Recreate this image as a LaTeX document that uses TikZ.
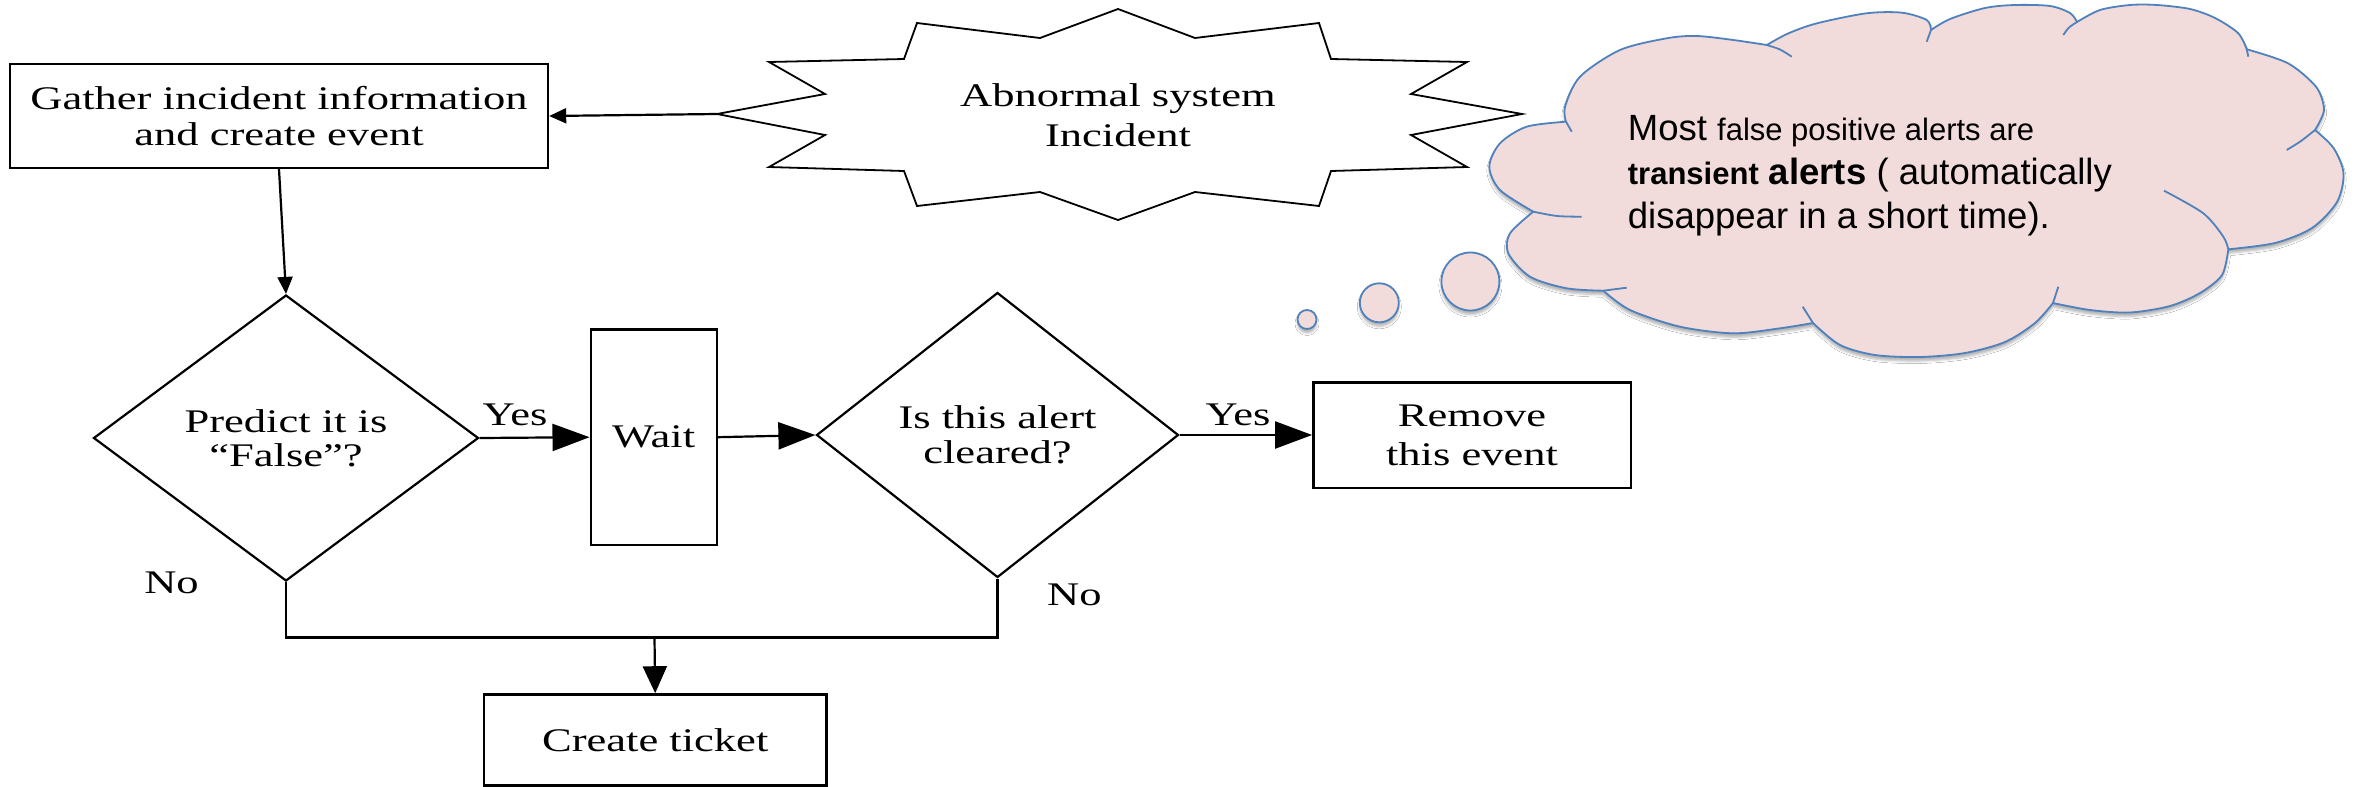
\documentclass[tikz,border=0pt]{standalone}
\usepackage{fontspec}
\usetikzlibrary{shapes.geometric,arrows.meta,shadows.blur}
\newfontfamily\flowfont[FakeStretch=1.35]{Liberation Serif}
\newfontfamily\notefont{Liberation Sans}
\newcommand\notebig{\fontsize{36.5}{44}\selectfont}
\newcommand\notesmall{\fontsize{31}{44}\selectfont}
\definecolor{cloudfill}{RGB}{242,220,219}
\definecolor{cloudline}{RGB}{79,129,189}

\begin{document}
\begin{tikzpicture}[x=1pt,y=-1pt,
  fs/.style={font=\flowfont\fontsize{33}{#1}\selectfont},
  flowtext/.style={fs=36, align=center, inner sep=0pt},
  procbox/.style={draw, line width=2.4pt, flowtext},
  decision/.style={diamond, draw, line width=2.2pt, flowtext},
  flowline/.style={line width=2.2pt},
  bigarrow/.style={flowline, -{Triangle[length=37pt,width=27pt]}},
  downarrow/.style={flowline, -{Triangle[length=27pt,width=24pt]}},
  smallarrow/.style={flowline, -{Triangle[length=17pt,width=15pt]}},
  burst/.style={draw, fill=white, line width=1.8pt, line join=miter},
  cloudshape/.style={fill=cloudfill, draw=cloudline, line width=1.8pt,
    blur shadow={shadow xshift=0pt, shadow yshift=-4pt, shadow blur radius=2.5pt, shadow opacity=30}},
  cloudtick/.style={draw=cloudline, line width=1.8pt},
  notetext/.style={font=\notefont\notebig, inner sep=0pt, anchor=base west},
]
\fill[white] (0,0) rectangle (2361,787);
\useasboundingbox (0,0) rectangle (2361,787);

% incident starburst
\draw[burst] (1118,9) -- (1195,38) -- (1319,23) -- (1331,59) -- (1467,62) -- (1411,94)
  -- (1522,114) -- (1411,135) -- (1467,167) -- (1331,171) -- (1319,206) -- (1195,192)
  -- (1118,220) -- (1040,192) -- (917,206) -- (904,171) -- (769,167) -- (825,135)
  -- (717,114) -- (825,94) -- (769,62) -- (904,59) -- (917,23) -- (1040,38) -- cycle;
\node[flowtext, fs=40] (incident) at (1118,115.5) {Abnormal system\\Incident};
\coordinate (burstL) at (717,114);

% flowchart boxes
\node[procbox, fs=36, minimum width=538pt, minimum height=104pt] (gather) at (279,116)
  {Gather incident information\\and create event};
\node[decision, fs=34, aspect=1.346, minimum width=385pt, minimum height=286pt] (predict) at (286,438)
  {Predict it is\\“False”?};
\node[procbox, minimum width=126pt, minimum height=215.7pt] (wait) at (653.7,437.2) {Wait};
\node[decision, fs=35, aspect=1.27, minimum width=362pt, minimum height=285pt] (cleared) at (997.5,435)
  {Is this alert\\cleared?};
\node[procbox, fs=39, minimum width=317.4pt, minimum height=105.4pt] (remove) at (1472,435)
  {Remove\\this event};
\node[procbox, minimum width=342.4pt, minimum height=91.2pt] (ticket) at (655.2,740) {Create ticket};

% branch labels
\node[flowtext, anchor=base] (yes1) at (515,425) {Yes};
\node[flowtext, anchor=base] (yes2) at (1238,425) {Yes};
\node[flowtext, anchor=base] (no1) at (171.5,593) {No};
\node[flowtext, anchor=base west] (no2) at (1047,605) {No};

% connectors
\draw[smallarrow] (burstL) -- (gather.east);
\draw[smallarrow] (gather.south) -- (predict.north);
\draw[bigarrow] (predict.east) -- (wait.west);
\draw[bigarrow] (wait.east) -- (cleared.west);
\draw[bigarrow] (cleared.east) -- (remove.west);
\coordinate (merge) at (654.5,637.5);
\draw[flowline] (predict.south) |- (merge) -| (cleared.south);
\draw[downarrow] (merge) -- (ticket.north);

% thought bubbles
\path[cloudshape] (1307,319.5) circle[radius=9.5pt];
\path[cloudshape] (1379.3,302.8) circle[radius=19.5pt];
\path[cloudshape] (1470.4,281.5) circle[radius=29pt];

% cloud outline, bump by bump
\path[cloudshape]
  plot[smooth] coordinates {(1566,121.7) (1565,106.7) (1580,76.7) (1620,50) (1666.7,38.3) (1696.7,36) (1733.3,40) (1766.7,45)}
  -- plot[smooth] coordinates {(1766.7,45) (1788.5,33.3) (1817,23.3) (1866.5,13.3) (1902,12.7) (1926.7,20) (1931,30)}
  -- plot[smooth] coordinates {(1931,30) (1950,19) (1985,8) (2015,5) (2050,6) (2070,13) (2077,22)}
  -- plot[smooth] coordinates {(2077,22) (2100,10) (2130,5) (2157,5) (2190,9) (2215,18) (2238,33) (2246.7,49.3)}
  -- plot[smooth] coordinates {(2246.7,49.3) (2288,63.3) (2316,86.7) (2324,108) (2320,121) (2315,130)}
  -- plot[smooth] coordinates {(2315,130) (2333.5,148) (2343.5,173.3) (2337,202) (2312,228) (2275,243) (2228.3,249.3)}
  -- plot[smooth] coordinates {(2228.3,249.3) (2222,275) (2200,293) (2170,306) (2130,312.5) (2090,310) (2053,303)}
  -- plot[smooth] coordinates {(2053,303) (2035,323) (2005,342) (1965,353) (1920,357) (1875,355) (1840,345) (1813,323)}
  -- plot[smooth] coordinates {(1813,323) (1780,328.3) (1733.3,333.3) (1680,326.7) (1630,310) (1603.3,290.7)}
  -- plot[smooth] coordinates {(1603.3,290.7) (1566.7,288.3) (1530,276.7) (1508.3,253.3) (1510,233.3) (1533.3,211.7)}
  -- plot[smooth] coordinates {(1533.3,211.7) (1500,190) (1489.3,166.7) (1500,143.3) (1526.7,126.7) (1566,121.7)}
  -- cycle;
% inner ends of the bumps
\draw[cloudtick] (1571.7,131.7) -- (1566,121.7);
\draw[cloudtick] plot[smooth] coordinates {(1766.7,45) (1780,49.5) (1791.7,56.7)};
\draw[cloudtick] (1926.7,41.7) -- (1931,30);
\draw[cloudtick] plot[smooth] coordinates {(2063.3,35) (2069,27.5) (2077,22)};
\draw[cloudtick] (2246.7,49.3) -- (2248.3,56.7);
\draw[cloudtick] plot[smooth] coordinates {(2315,130) (2301,141) (2286.7,150)};
\draw[cloudtick] plot[smooth] coordinates {(2164,190.7) (2203.3,213.3) (2223.3,236.7) (2228.3,249.3)};
\draw[cloudtick] (2058.3,286.7) -- (2053,303);
\draw[cloudtick] (1813,323) -- (1802.7,306.7);
\draw[cloudtick] (1603.3,290.7) -- (1626.7,287.7);
\draw[cloudtick] plot[smooth] coordinates {(1533.3,211.7) (1557,216) (1581.7,216.7)};

% cloud text
\node[notetext] (note1) at (1627.7,140) {Most {\notesmall false positive alerts are}};
\node[notetext] (note2) at (1627.7,184) {{\notesmall\bfseries transient} {\bfseries alerts} ( automatically};
\node[notetext] (note3) at (1627.7,228.3) {disappear in a short time).};
\end{tikzpicture}
\end{document}
